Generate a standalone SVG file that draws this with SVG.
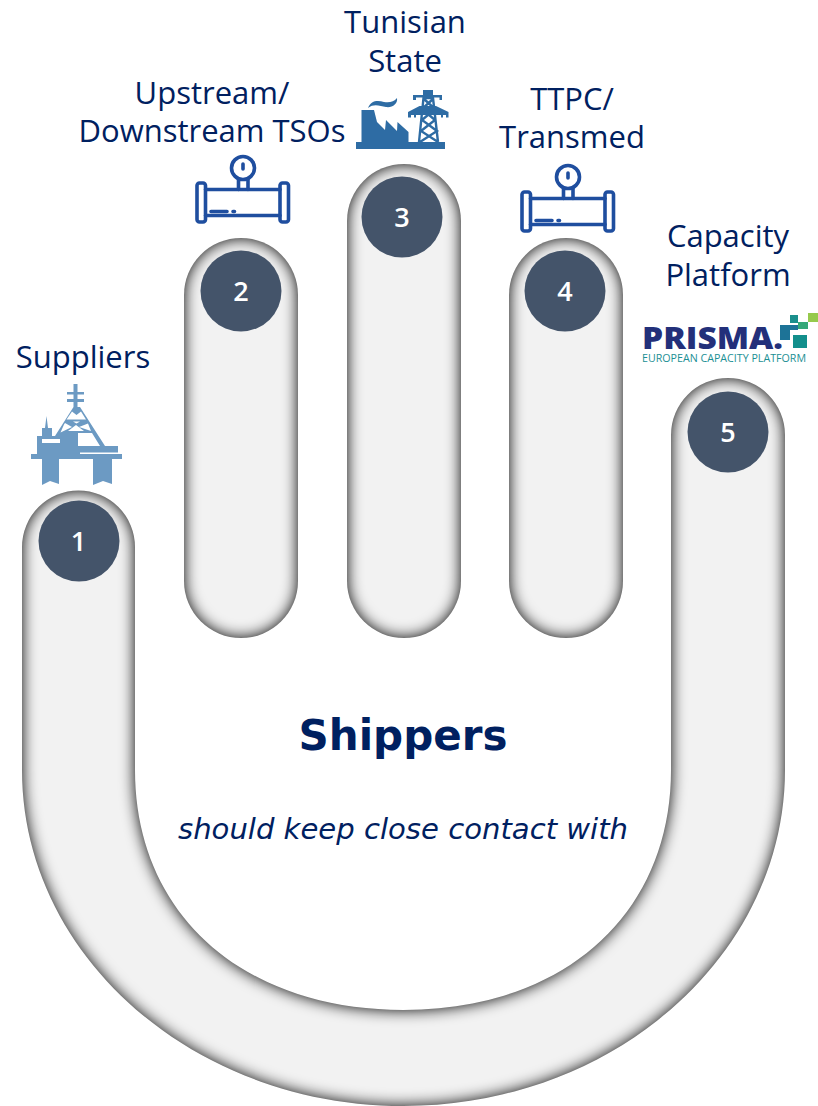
<svg xmlns="http://www.w3.org/2000/svg" xmlns:xlink="http://www.w3.org/1999/xlink" width="818" height="1106" viewBox="0 0 818 1106">
<style>
.hand{fill:#f2f2f2;filter:url(#inset)}
.dot{fill:#44546a}
.num{font:600 27px "Open Sans",sans-serif;fill:#fff;text-anchor:middle}
.lab{font:31px "Open Sans",sans-serif;fill:#002060;text-anchor:middle}
.pipe{fill:none;stroke:#1f4e9f;stroke-width:3.600;stroke-linejoin:round;stroke-linecap:round}
.rig{fill:#6c9ac3}
.fac{fill:#2e6ca4}
.facl{fill:none;stroke:#2e6ca4;stroke-width:2.4}
</style>
<defs>
<filter id="inset" filterUnits="userSpaceOnUse" x="-40" y="100" width="900" height="1060" color-interpolation-filters="sRGB">
<feComponentTransfer in="SourceAlpha" result="inv"><feFuncA type="table" tableValues="1 0"/></feComponentTransfer>
<feGaussianBlur in="inv" stdDeviation="7.500" result="b"/>
<feFlood flood-color="#000" flood-opacity="1"/>
<feComposite in2="b" operator="in"/>
<feComposite in2="SourceAlpha" operator="in" result="s"/>
<feMerge><feMergeNode in="SourceGraphic"/><feMergeNode in="s"/></feMerge>
</filter>
<g id="pipeicon" class="pipe">
<rect x="197" y="183" width="8.500" height="39" rx="2.500"/>
<rect x="280" y="183" width="8.500" height="39" rx="2.500"/>
<path d="M205.500 189.500H280M205.500 215.500H280"/>
<circle cx="243" cy="168" r="11.500"/>
<path d="M238.500 179V189.500M248 179V189.500M243 164V169M211 211.500H227M233 211.500H234.500"/>
</g>
</defs>

<g id="node-shippers">
<path class="hand" d="M22 547a56.500 56.500 0 0 1 113 0V770C135 914 242.700 1010 403.500 1010S671 914 671 770V435a57 57 0 0 1 114 0V770C785 955 614 1106 403.500 1106S22 955 22 770Z"/>
<text x="403" y="750" font-family="'DejaVu Sans',sans-serif" font-weight="bold" font-size="42" fill="#002060" text-anchor="middle">Shippers</text>
<text x="403" y="839" font-family="'DejaVu Sans',sans-serif" font-style="italic" font-size="29.100" fill="#002060" text-anchor="middle">should keep close contact with</text>
</g>

<g id="node-1">
<circle class="dot" cx="79" cy="541" r="40.500"/>
<text class="num" x="78.500" y="551">1</text>
<text class="lab" x="83" y="367.500">Suppliers</text>
<g id="rig-icon">
<path class="rig" d="M31 454H122V459H112V484L103 481L93 485V459H59V484L50 481L42 485V459H31Z"/>
<path class="rig" d="M37 436H42V428H45L46.500 416L48 428H52V436H78V446H80V454H37Z"/>
<path class="rig" d="M80 446H118V452.500H80Z"/>
<path d="M42 439H60V443H42Z" fill="#fff"/>
<path class="rig" d="M73.500 384H77.500V392H84V394.500H77.500V399H84V402H77.500V407H80L105 446H100L92 433H78V436H55L73.500 407V402H67V399H73.500V394.500H67V392H73.500Z"/>
<path d="M72 411.500L66.500 419.500H86L81 411.500L76.500 415ZM65 423L64 424.500L60.500 432.500L72 427ZM88 423.500L91 431L79 427ZM76 425L68 431H84ZM73 421.500H80L76.500 423.500Z" fill="#fff"/>
</g>
</g>

<g id="node-2">
<path class="hand" d="M184 295a57 57 0 0 1 114 0V581a57 57 0 0 1 -114 0Z"/>
<circle class="dot" cx="241" cy="291" r="40.500"/>
<text class="num" x="241" y="301">2</text>
<text class="lab" x="212" y="104">Upstream/</text>
<text class="lab" x="212" y="142">Downstream TSOs</text>
<use xlink:href="#pipeicon" href="#pipeicon"/>
</g>

<g id="node-3">
<path class="hand" d="M347 221a57 57 0 0 1 114 0V581a57 57 0 0 1 -114 0Z"/>
<circle class="dot" cx="402" cy="217" r="40.500"/>
<text class="num" x="402" y="227">3</text>
<text class="lab" x="405" y="33">Tunisian</text>
<text class="lab" x="405" y="72">State</text>
<g id="industry-icon">
<path class="fac" d="M356 142H445V149H356ZM361.500 110H374L377 122L385 130L386 120L397 131L397.500 122L408.500 132V142H361.500Z"/>
<path class="fac" d="M368 108C371 100 378 100 384 102C389 103 394 102 397 98C398 104 392 108 386 107C380 106 374 103 368 108Z"/>
<path class="facl" d="M419 142L423.500 98H433L438 142M420 142L437 131L422 120L435 109L424 99M438 142L421 131L435 120L422 109L433 99M422 109H435"/>
<path class="fac" d="M423 90H433V95H442V100H439.500V97.500H416V100H413V95H423Z"/>
<path class="fac" d="M419.500 106H436L448.500 112V117.500H446V115H443V117.500H441V115H416V117.500H414V115H411V117.500H408V112Z"/>
</g>
</g>

<g id="node-4">
<path class="hand" d="M509 295a57 57 0 0 1 114 0V581a57 57 0 0 1 -114 0Z"/>
<circle class="dot" cx="565" cy="291" r="40.500"/>
<text class="num" x="565" y="301">4</text>
<text class="lab" x="572" y="110">TTPC/</text>
<text class="lab" x="572" y="148">Transmed</text>
<use xlink:href="#pipeicon" href="#pipeicon" x="325" y="9"/>
</g>

<g id="node-5">
<circle class="dot" cx="728" cy="432" r="40.500"/>
<text class="num" x="728" y="442">5</text>
<text class="lab" x="728" y="247">Capacity</text>
<text class="lab" x="728" y="285.500">Platform</text>
<g id="prisma-logo">
<text x="642" y="349" font-family="'Open Sans',sans-serif" font-weight="800" font-size="30" fill="#23307a" textLength="141" lengthAdjust="spacingAndGlyphs">PRISMA.</text>
<text x="642" y="362" font-family="'Open Sans',sans-serif" font-size="11" fill="#1b8f94" textLength="164" lengthAdjust="spacingAndGlyphs">EUROPEAN CAPACITY PLATFORM</text>
<path fill="#1a8f8c" d="M790 315H798V323H790Z"/>
<path fill="#96c94c" d="M808 313H818V322H808Z"/>
<path fill="#35a878" d="M798 322H808V329H798Z"/>
<path fill="#1d7397" d="M780 325H798V330H790V340H780Z"/>
<path fill="#128f8c" d="M793 335H807V348H793Z"/>
</g>
</g>
</svg>
